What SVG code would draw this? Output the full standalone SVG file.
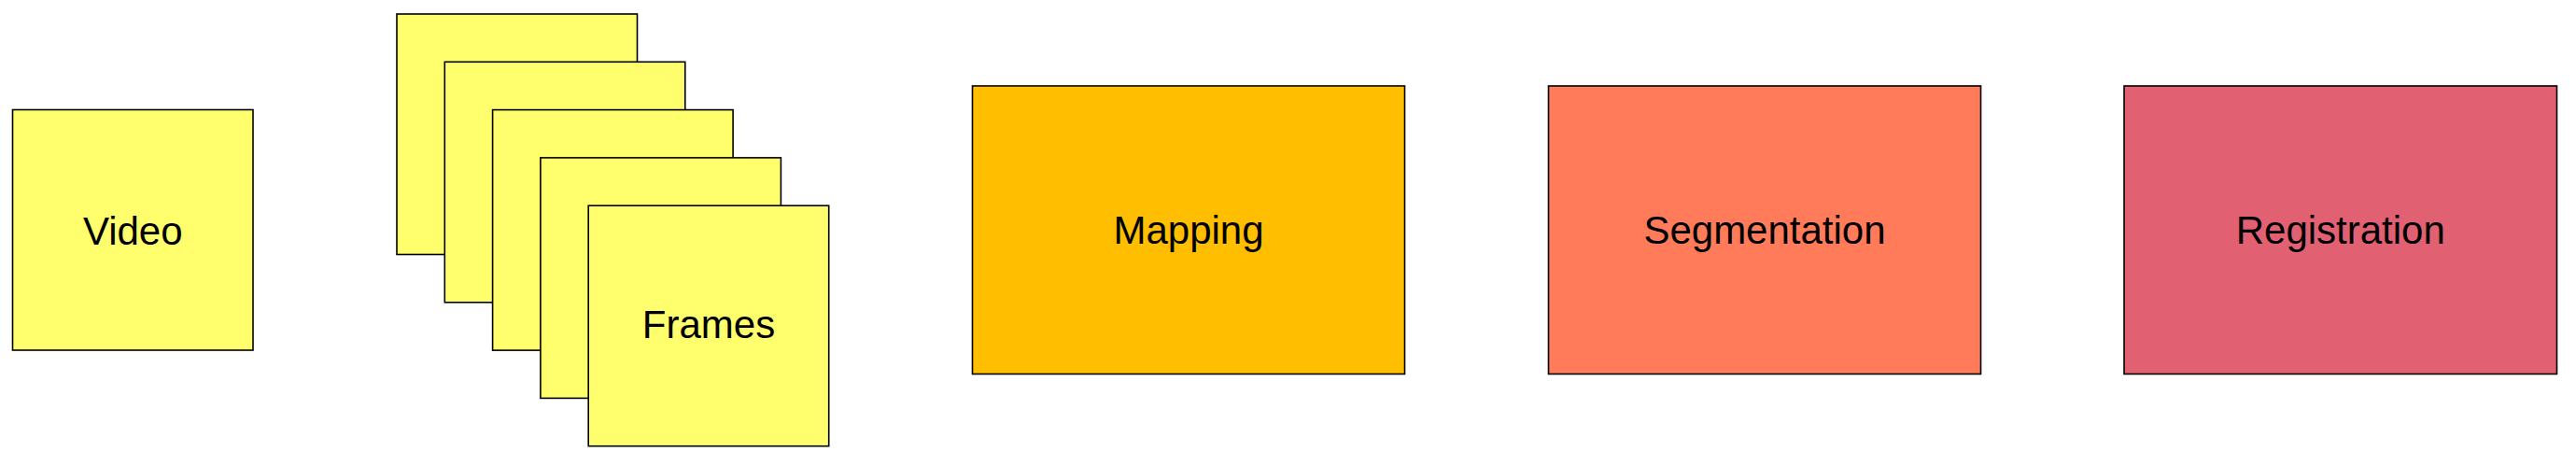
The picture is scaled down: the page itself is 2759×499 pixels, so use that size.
<svg xmlns="http://www.w3.org/2000/svg" width="2759" height="499" viewBox="0 0 2759 499">
<style>
.box{stroke:#000;stroke-width:1.6}
.y{fill:#FFFF6D}
.lbl{font-family:"Liberation Sans",Arial,sans-serif;font-size:42px;fill:#000;text-anchor:middle}
</style>
<rect width="2759" height="499" fill="#fff"/>
<g id="video">
<rect class="box y" x="13.5" y="117.5" width="257.5" height="257.5"/>
<text class="lbl" x="142.25" y="261.5">Video</text>
</g>
<g id="frames">
<rect class="box y" x="425" y="15" width="257.5" height="257.5"/>
<rect class="box y" x="476.3" y="66.3" width="257.5" height="257.5"/>
<rect class="box y" x="527.6" y="117.6" width="257.5" height="257.5"/>
<rect class="box y" x="578.9" y="168.9" width="257.5" height="257.5"/>
<rect class="box y" x="630.2" y="220.2" width="257.5" height="257.5"/>
<text class="lbl" x="759" y="362">Frames</text>
</g>
<g id="mapping">
<rect class="box" fill="#FFBF00" x="1041.5" y="92" width="463" height="308.5"/>
<text class="lbl" x="1273" y="261">Mapping</text>
</g>
<g id="segmentation">
<rect class="box" fill="#FF7B59" x="1658.5" y="92" width="463" height="308.5"/>
<text class="lbl" x="1890" y="261">Segmentation</text>
</g>
<g id="registration">
<rect class="box" fill="#E16173" x="2275" y="92" width="463.5" height="308.5"/>
<text class="lbl" x="2506.75" y="261">Registration</text>
</g>
<g id="connectors"></g>
</svg>
